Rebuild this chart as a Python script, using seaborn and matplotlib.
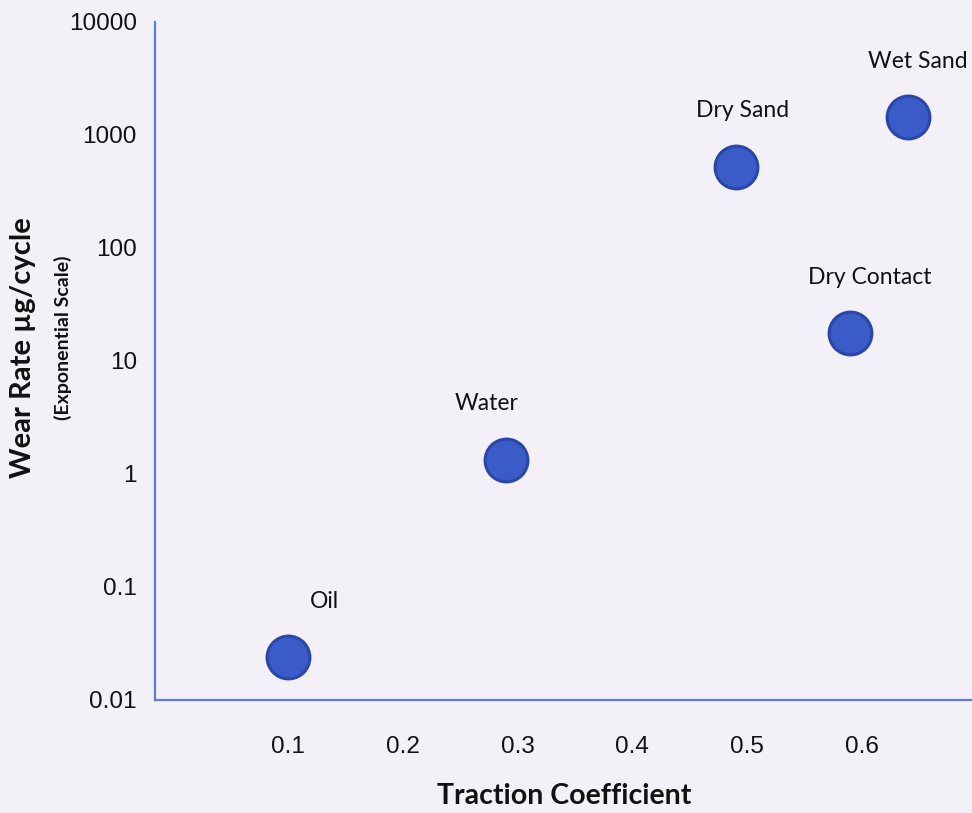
import matplotlib
matplotlib.use("Agg")
import matplotlib.pyplot as plt
import matplotlib.ticker as mticker
import seaborn as sns
import pandas as pd

# Lubrication condition vs. traction and wear
conditions = ["Oil", "Water", "Dry Sand", "Wet Sand", "Dry Contact"]
traction = [0.10, 0.29, 0.49, 0.64, 0.59]
wear_rate = [0.024, 1.33, 520, 1440, 17.7]

x_ticks = [0.1, 0.2, 0.3, 0.4, 0.5, 0.6]
x_tick_labels = ["0.1", "0.2", "0.3", "0.4", "0.5", "0.6"]
y_ticks = [0.01, 0.1, 1, 10, 100, 1000, 10000]
y_tick_labels = ["0.01", "0.1", "1", "10", "100", "1000", "10000"]

# label placement relative to each marker (points)
label_offsets = [(26, 40), (-14, 41), (5, 41), (7, 40), (14, 40)]

df = pd.DataFrame({"condition": conditions, "traction": traction, "wear": wear_rate})

sns.set_theme(style="white")
plt.rcParams["font.family"] = ["Lato", "DejaVu Sans"]

bg = "#f3f0f8"
axis_blue = "#5a7ddc"
dot_fill = "#3b5bc9"
dot_edge = "#2a46a6"

fig = plt.figure(figsize=(9.72, 8.13), dpi=100, facecolor=bg)
ax = fig.add_axes([0.1595, 0.139, 0.8405, 0.834])
ax.set_facecolor(bg)

sns.scatterplot(data=df, x="traction", y="wear", s=950, color=dot_fill,
                edgecolor=dot_edge, linewidth=2.2, ax=ax, zorder=3, legend=False)

ax.set_yscale("log")
ax.set_ylim(0.01, 10000)
ax.set_xlim(-0.016, 0.696)

tick_font = ["Liberation Sans", "DejaVu Sans"]
ax.set_yticks(y_ticks)
ax.set_yticklabels(y_tick_labels, family=tick_font, fontsize=17.5)
ax.yaxis.set_minor_locator(mticker.NullLocator())
ax.set_xticks(x_ticks)
ax.set_xticklabels(x_tick_labels, family=tick_font, fontsize=17.5)
ax.tick_params(axis="y", length=0, pad=13, colors="#111111")
ax.tick_params(axis="x", length=0, pad=26, colors="#111111")

for side in ["top", "right"]:
    ax.spines[side].set_visible(False)
for side in ["left", "bottom"]:
    ax.spines[side].set_color(axis_blue)
    ax.spines[side].set_linewidth(1.6)

for name, xv, yv, (dx, dy) in zip(conditions, traction, wear_rate, label_offsets):
    ax.annotate(name, (xv, yv), xytext=(dx, dy), textcoords="offset points",
                ha="center", va="center", fontsize=16.5, color="#111111")

ax.set_xlabel("")
ax.set_ylabel("")
fig.text(0.580, 0.021, "Traction Coefficient", ha="center", va="center",
         fontsize=20.5, fontweight="bold", color="#111111")
fig.text(0.024, 0.572, "Wear Rate µg/cycle", ha="center", va="center",
         rotation=90, fontsize=21, fontweight="bold", color="#111111")
fig.text(0.065, 0.584, "(Exponential Scale)", ha="center", va="center",
         rotation=90, fontsize=14, fontweight="bold", color="#111111")

fig.savefig("out.png", dpi=100, facecolor=bg)
